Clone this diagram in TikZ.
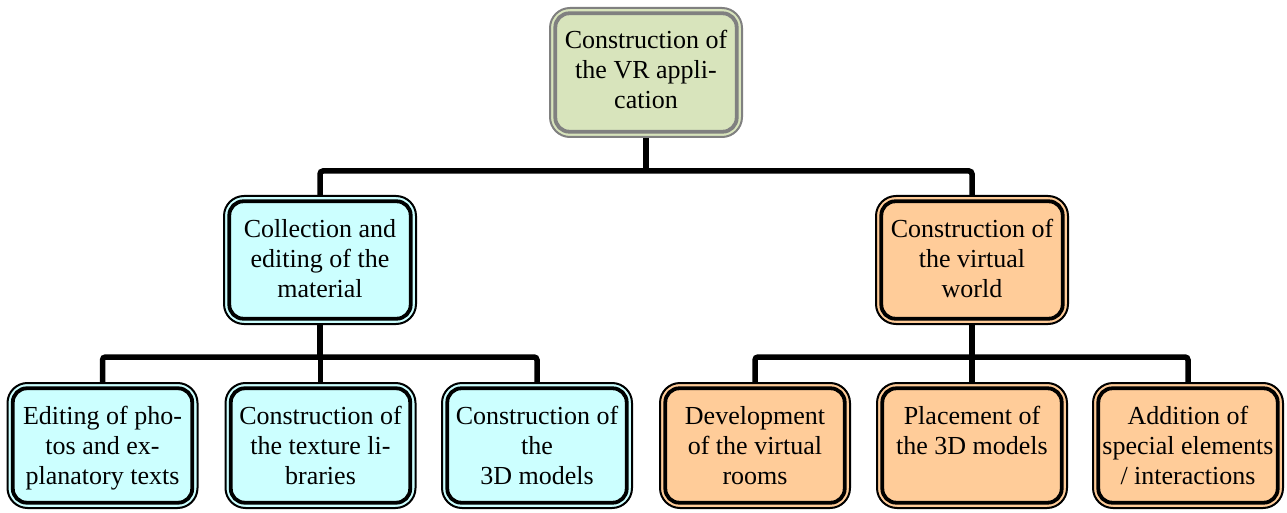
\documentclass[tikz,border=0pt]{standalone}
\usepackage{fontspec}
\setmainfont{Liberation Serif}
\definecolor{topfill}{HTML}{D8E4BC}
\definecolor{cyanfill}{HTML}{CCFFFF}
\definecolor{peachfill}{HTML}{FFCC99}
\definecolor{framegray}{HTML}{808080}
\tikzset{
  box/.style={draw, line width=2pt, rounded corners=20pt, minimum width=190pt, minimum height=125pt, inner sep=0pt},
  inbox/.style={line width=3.8pt, rounded corners=14pt},
  txt/.style={anchor=base, inner sep=0pt, font=\fontsize{26}{30}\selectfont},
  conn/.style={line width=5.5pt, rounded corners=3pt, draw=black},
}
\newcommand\innerframe[2]{\draw[inbox,#2] ([shift={(6.3pt,6.3pt)}]#1.south west) rectangle ([shift={(-6.3pt,-6.3pt)}]#1.north east);}
\newcommand\boxtext[3]{\node[txt] (#1) at ([yshift=-42pt]#2.north) {\parbox[t]{185pt}{\centering #3}};}
\begin{document}
\begin{tikzpicture}[x=1pt,y=-1pt]
\useasboundingbox (0,0) rectangle (1287,513);
% top
\node[box, draw=framegray, fill=topfill, minimum width=192pt, minimum height=129pt] (top) at (646,72.5) {};
\innerframe{top}{draw=framegray}
\boxtext{topt}{top}{Construction of\\the VR appli-\\cation}
% middle
\node[box, fill=cyanfill, minimum width=192pt, minimum height=128pt] (ml) at (320,260) {};
\innerframe{ml}{draw=black}
\boxtext{mlt}{ml}{Collection and\\editing of the\\material}
\node[box, fill=peachfill, minimum width=192pt, minimum height=128pt] (mr) at (972,260) {};
\innerframe{mr}{draw=black}
\boxtext{mrt}{mr}{Construction of\\the virtual\\world}
% bottom
\node[box, fill=cyanfill] (b1) at (102.5,445.5) {};
\innerframe{b1}{draw=black}
\boxtext{b1t}{b1}{Editing of pho-\\tos and ex-\\planatory texts}
\node[box, fill=cyanfill] (b2) at (320.5,445.5) {};
\innerframe{b2}{draw=black}
\boxtext{b2t}{b2}{Construction of\\the texture li-\\braries}
\node[box, fill=cyanfill] (b3) at (537,445.5) {};
\innerframe{b3}{draw=black}
\boxtext{b3t}{b3}{Construction of\\the\\3D models}
\node[box, fill=peachfill] (b4) at (755,445.5) {};
\innerframe{b4}{draw=black}
\boxtext{b4t}{b4}{Development\\of the virtual\\rooms}
\node[box, fill=peachfill] (b5) at (972,445.5) {};
\innerframe{b5}{draw=black}
\boxtext{b5t}{b5}{Placement of\\the 3D models}
\node[box, fill=peachfill] (b6) at (1188,445.5) {};
\innerframe{b6}{draw=black}
\boxtext{b6t}{b6}{Addition of\\special elements\\/ interactions}
% connectors
\coordinate (j0) at (646,171);
\coordinate (j1) at (320,357);
\coordinate (j2) at (972,357);
\draw[conn] (top.south) -- (j0);
\draw[conn] (ml.north) |- (j0) -| (mr.north);
\draw[conn] (ml.south) -- (j1);
\draw[conn] (b1.north) |- (j1) -| (b3.north);
\draw[conn] (b2.north) -- (b2.north |- j1);
\draw[conn] (mr.south) -- (j2);
\draw[conn] (b4.north) |- (j2) -| (b6.north);
\draw[conn] (b5.north) -- (b5.north |- j2);
\end{tikzpicture}
\end{document}
